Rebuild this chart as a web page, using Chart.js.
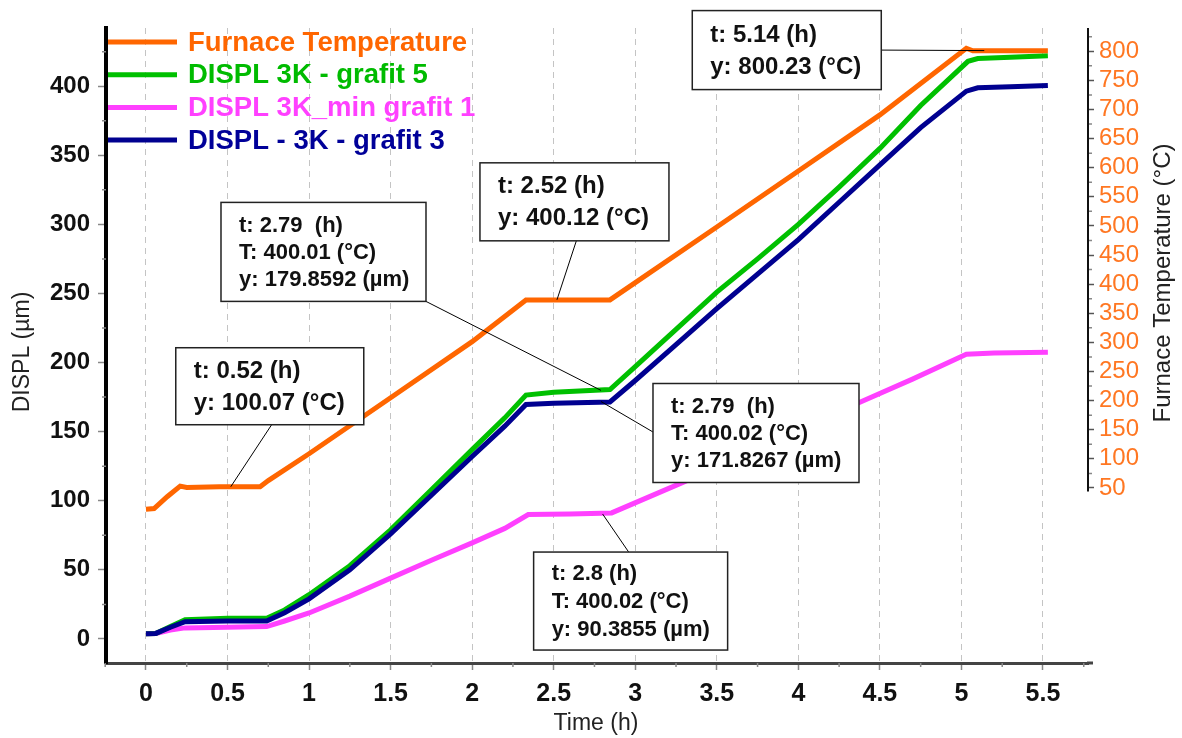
<!DOCTYPE html>
<html>
<head>
<meta charset="utf-8">
<script src="https://cdn.jsdelivr.net/npm/chart.js@4.4.1/dist/chart.umd.min.js"></script>
<style>
  html, body { margin: 0; padding: 0; background: #fff; }
  #wrap { width: 1182px; height: 738px; }
</style>
</head>
<body>
<div id="wrap"><canvas id="chart" width="1182" height="738"></canvas></div>
<script>
// tick labels
const timeTicks = [0, 0.5, 1, 1.5, 2, 2.5, 3, 3.5, 4, 4.5, 5, 5.5];
const displTicks = [0, 50, 100, 150, 200, 250, 300, 350, 400];
const tempTicks = [50, 100, 150, 200, 250, 300, 350, 400, 450, 500, 550, 600, 650, 700, 750, 800];

const seriesNames = ['Furnace Temperature', 'DISPL 3K - grafit 5', 'DISPL 3K_min grafit 1', 'DISPL - 3K - grafit 3'];

// furnace temperature (°C) vs time (h)
const furnaceTime = [0, 0.05, 0.13, 0.21, 0.25, 0.45, 0.70, 0.75, 1.0, 1.5, 2.0, 2.33, 2.6, 2.845, 3.5, 4.0, 4.5, 5.03, 5.07, 5.3, 5.53];
const furnaceTemp = [64, 65, 84, 101, 99, 100, 100, 110, 153, 243, 333, 400, 400, 400, 517, 607, 697, 804, 800, 800, 800];

// DISPL 3K - grafit 5 (µm)
const grafit5Time = [0, 0.06, 0.15, 0.24, 0.5, 0.74, 0.85, 1.0, 1.25, 1.5, 1.75, 2.0, 2.2, 2.33, 2.5, 2.845, 3.0, 3.25, 3.5, 3.75, 4.0, 4.25, 4.5, 4.75, 5.04, 5.1, 5.3, 5.53];
const grafit5Displ = [3.8, 4, 9, 14, 15, 15, 21, 32, 53, 79, 108, 137, 160, 176.5, 178.5, 180.5, 197, 224, 251, 275, 300, 327, 355, 386, 418, 420, 421, 422];

// DISPL 3K_min grafit 1 (µm)
const grafit1Time = [0, 0.06, 0.15, 0.24, 0.5, 0.74, 0.85, 1.0, 1.25, 1.5, 1.75, 2.0, 2.2, 2.344, 2.6, 2.855, 3.274, 3.5, 4.0, 4.367, 4.7, 5.03, 5.2, 5.53];
const grafit1Displ = [3.8, 4, 6.5, 8, 8.5, 9, 13, 18.8, 31, 44, 57, 69.5, 80, 90, 90.5, 91.2, 112.4, 124, 150, 170.8, 188, 206, 207, 207.5];

// DISPL - 3K - grafit 3 (µm)
const grafit3Time = [0, 0.06, 0.15, 0.24, 0.5, 0.74, 0.85, 1.0, 1.25, 1.5, 1.75, 2.0, 2.2, 2.33, 2.5, 2.845, 3.0, 3.25, 3.5, 3.75, 4.0, 4.25, 4.5, 4.75, 5.03, 5.1, 5.3, 5.53];
const grafit3Displ = [3.8, 4, 8.5, 12.5, 13, 13, 19, 29, 50, 76, 104, 132, 154, 169.6, 170.5, 171.5, 187, 213, 239, 264, 289, 316, 343, 370, 396.4, 398.8, 399.5, 400.5];

// read-outs shown in the boxes
const noteTime = [0.52, 2.52, 2.79, 2.79, 2.8, 5.14];
const noteValue = [100.07, 400.12, 179.8592, 171.8267, 90.3855, 800.23];
const noteAxis = ['yT', 'yT', 'y', 'y', 'y', 'yT'];
const noteText = [
  ['t: 0.52 (h)', 'y: 100.07 (°C)'],
  ['t: 2.52 (h)', 'y: 400.12 (°C)'],
  ['t: 2.79  (h)', 'T: 400.01 (°C)', 'y: 179.8592 (µm)'],
  ['t: 2.79  (h)', 'T: 400.02 (°C)', 'y: 171.8267 (µm)'],
  ['t: 2.8 (h)', 'T: 400.02 (°C)', 'y: 90.3855 (µm)'],
  ['t: 5.14 (h)', 'y: 800.23 (°C)']
];

// box placement relative to the point it points at
const noteBoxes = [
  { dx: -55, dy: -139, w: 188, h: 77, side: 'bottom', at: 0.51, font: 24, lh: 32 },
  { dx: -77, dy: -137, w: 189, h: 78, side: 'bottom', at: 0.51, font: 24, lh: 32 },
  { dx: -380, dy: -188, w: 205, h: 99, side: 'corner', at: 1, font: 22, lh: 27 },
  { dx: 52, dy: -18, w: 206, h: 99, side: 'left', at: 0.49, font: 22, lh: 27 },
  { dx: -69, dy: 38, w: 194, h: 98, side: 'top', at: 0.49, font: 22, lh: 28 },
  { dx: -292, dy: -40, w: 189, h: 79, side: 'right', at: 0.5, font: 24, lh: 32 }
];

const FONT = "'Liberation Sans', Arial, sans-serif";
const colors = ['#ff6600', '#00c000', '#ff40ff', '#000090'];
const legendColors = ['#ff6600', '#00bb00', '#ff40ff', '#000099'];

function pts(xs, ys) {
  return xs.map((t, i) => ({ x: t, y: ys[i] }));
}

const decor = {
  id: 'decor',
  beforeDraw(chart) {
    const ctx = chart.ctx;
    ctx.save();
    ctx.fillStyle = '#fff';
    ctx.fillRect(0, 0, chart.width, chart.height);
    ctx.restore();
  },
  afterDraw(chart) {
    const ctx = chart.ctx;
    const a = chart.chartArea;
    const sx = chart.scales.x, sy = chart.scales.y, s2 = chart.scales.y2;
    ctx.save();

    // x axis runs a little past the right axis
    ctx.strokeStyle = '#444';
    ctx.lineWidth = 3;
    ctx.beginPath();
    ctx.moveTo(a.right - 1, a.bottom);
    ctx.lineTo(a.right + 5, a.bottom);
    ctx.stroke();

    // minor ticks
    ctx.strokeStyle = '#888';
    ctx.lineWidth = 1.5;
    ctx.beginPath();
    for (let v = -0.25; v <= 5.76; v += 0.5) {
      const x = sx.getPixelForValue(v);
      ctx.moveTo(x, a.bottom); ctx.lineTo(x, a.bottom + 4);
    }
    for (let v = 25; v <= 440; v += 50) {
      const y = sy.getPixelForValue(v);
      ctx.moveTo(a.left - 4, y); ctx.lineTo(a.left, y);
    }
    for (let v = 75; v <= 825; v += 50) {
      const y = s2.getPixelForValue(v);
      ctx.moveTo(a.right, y); ctx.lineTo(a.right + 4, y);
    }
    ctx.stroke();

    // right axis line (only over its labelled range)
    ctx.strokeStyle = '#111';
    ctx.lineWidth = 2;
    ctx.beginPath();
    ctx.moveTo(a.right, a.top);
    ctx.lineTo(a.right, s2.getPixelForValue(44));
    ctx.stroke();

    // axis titles
    ctx.fillStyle = '#222';
    ctx.font = '23px ' + FONT;
    ctx.textAlign = 'center';
    ctx.textBaseline = 'middle';
    ctx.fillText('Time (h)', 596, 724);
    ctx.save();
    ctx.translate(23, 352);
    ctx.rotate(-Math.PI / 2);
    ctx.fillText('DISPL (µm)', 0, 0);
    ctx.restore();
    ctx.save();
    ctx.font = '24px ' + FONT;
    ctx.translate(1163, 283);
    ctx.rotate(-Math.PI / 2);
    ctx.fillText('Furnace Temperature (°C)', 0, 0);
    ctx.restore();

    // legend
    ctx.textAlign = 'left';
    ctx.font = 'bold 27.5px ' + FONT;
    seriesNames.forEach((name, i) => {
      const y = 42 + i * 32.7;
      ctx.strokeStyle = colors[i];
      ctx.lineWidth = 5;
      ctx.beginPath();
      ctx.moveTo(a.left + 2, y);
      ctx.lineTo(a.left + 71, y);
      ctx.stroke();
      ctx.fillStyle = legendColors[i];
      ctx.fillText(name, 188, y + 1);
    });

    // read-out boxes
    noteTime.forEach((t, i) => {
      const b = noteBoxes[i];
      const px = sx.getPixelForValue(t);
      const py = chart.scales[noteAxis[i]].getPixelForValue(noteValue[i]);
      const bx = px + b.dx, by = py + b.dy;
      let lx, ly;
      if (b.side === 'bottom') { lx = bx + b.w * b.at; ly = by + b.h; }
      else if (b.side === 'top') { lx = bx + b.w * b.at; ly = by; }
      else if (b.side === 'left') { lx = bx; ly = by + b.h * b.at; }
      else if (b.side === 'right') { lx = bx + b.w; ly = by + b.h * b.at; }
      else { lx = bx + b.w; ly = by + b.h; }
      ctx.strokeStyle = '#000';
      ctx.lineWidth = 1;
      ctx.beginPath();
      ctx.moveTo(lx, ly);
      ctx.lineTo(px, py);
      ctx.stroke();

      ctx.fillStyle = '#fff';
      ctx.fillRect(bx, by, b.w, b.h);
      ctx.strokeStyle = '#222';
      ctx.lineWidth = 1.5;
      ctx.strokeRect(bx, by, b.w, b.h);

      ctx.fillStyle = '#111';
      ctx.font = 'bold ' + b.font + 'px ' + FONT;
      ctx.textBaseline = 'middle';
      const lines = noteText[i];
      lines.forEach((s, k) => {
        const cy = by + b.h / 2 + (k - (lines.length - 1) / 2) * b.lh;
        ctx.fillText(s, bx + 18, cy + 1);
      });
    });

    ctx.restore();
  }
};

const datasets = [
  { label: seriesNames[0], data: pts(furnaceTime, furnaceTemp), yAxisID: 'yT', borderColor: colors[0], order: 1 },
  { label: seriesNames[1], data: pts(grafit5Time, grafit5Displ), yAxisID: 'y', borderColor: colors[1], order: 2 },
  { label: seriesNames[2], data: pts(grafit1Time, grafit1Displ), yAxisID: 'y', borderColor: colors[2], order: 3 },
  { label: seriesNames[3], data: pts(grafit3Time, grafit3Displ), yAxisID: 'y', borderColor: colors[3], order: 0 }
].map(d => Object.assign(d, { borderWidth: 5, pointRadius: 0, tension: 0, fill: false }));

new Chart(document.getElementById('chart'), {
  type: 'line',
  data: { datasets },
  plugins: [decor],
  options: {
    responsive: false,
    animation: false,
    layout: { padding: { top: 28, left: 0, right: 0, bottom: 0 } },
    plugins: { legend: { display: false }, tooltip: { enabled: false } },
    scales: {
      x: {
        type: 'linear',
        min: -0.245,
        max: 5.776,
        afterBuildTicks: s => { s.ticks = timeTicks.map(v => ({ value: v })); },
        afterFit: s => { s.height = 75; },
        border: { display: true, color: '#444', width: 3, dash: [6, 5] },
        grid: { color: '#c4c4c4', lineWidth: 1, drawTicks: true, tickLength: 7, tickColor: '#888', tickWidth: 1.5, tickBorderDash: [] },
        ticks: { color: '#111', font: { family: FONT, size: 25, weight: 'bold' }, padding: 9, maxRotation: 0, autoSkip: false, callback: v => String(v) }
      },
      y: {
        position: 'left',
        min: -17.4,
        max: 442.1,
        afterBuildTicks: s => { s.ticks = displTicks.map(v => ({ value: v })); },
        afterFit: s => { s.width = 106; },
        border: { display: true, color: '#000', width: 4 },
        grid: { drawOnChartArea: false, drawTicks: true, tickLength: 8, tickColor: '#888', tickWidth: 1.5 },
        ticks: { color: '#111', font: { family: FONT, size: 24, weight: 'bold' }, padding: 8, autoSkip: false, callback: v => String(v) }
      },
      y2: {
        position: 'right',
        min: -250.6,
        max: 839.9,
        afterBuildTicks: s => { s.ticks = tempTicks.map(v => ({ value: v })); },
        afterFit: s => { s.width = 94; },
        border: { display: false },
        grid: { drawOnChartArea: false, drawTicks: true, tickLength: 6, tickColor: '#555', tickWidth: 1.5 },
        ticks: { color: '#ff7722', font: { family: FONT, size: 24 }, padding: 5, autoSkip: false, callback: v => String(v) }
      },
      yT: {
        display: false,
        position: 'right',
        min: -182.9,
        max: 836.5
      }
    }
  }
});
</script>
</body>
</html>
